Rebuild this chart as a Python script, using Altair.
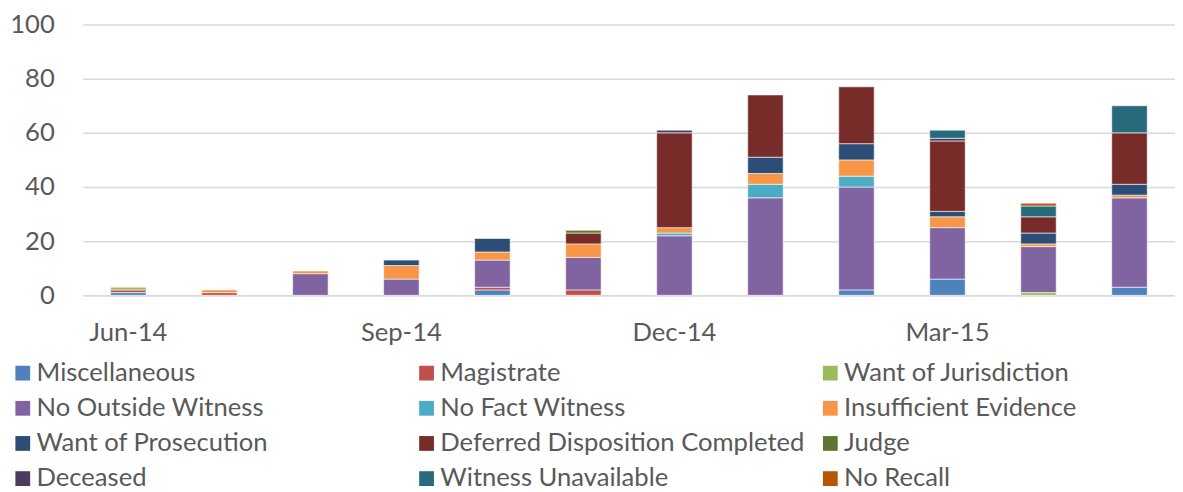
import altair as alt
import pandas as pd

months = ["Jun-14", "Jul-14", "Aug-14", "Sep-14", "Oct-14", "Nov-14",
          "Dec-14", "Jan-15", "Feb-15", "Mar-15", "Apr-15", "May-15"]
shown_labels = ["Jun-14", "Sep-14", "Dec-14", "Mar-15"]

series = ["Miscellaneous", "Magistrate", "Want of Jurisdiction",
          "No Outside Witness", "No Fact Witness", "Insufficient Evidence",
          "Want of Prosecution", "Deferred Disposition Completed", "Judge",
          "Deceased", "Witness Unavailable", "No Recall"]
colors = ["#4F81BD", "#C0504D", "#9BBB59",
          "#8064A2", "#4BACC6", "#F79646",
          "#2C4D75", "#772C2A", "#5F7530",
          "#4D3B62", "#276A7C", "#B65708"]

miscellaneous = [1, 0, 0, 0, 2, 0, 0, 0, 2, 6, 0, 3]
magistrate = [1, 1, 0, 0, 1, 2, 0, 0, 0, 0, 0, 0]
want_of_jurisdiction = [1, 0, 0, 0, 0, 0, 0, 0, 0, 0, 1, 0]
no_outside_witness = [0, 0, 8, 6, 10, 12, 22, 36, 38, 19, 17, 33]
no_fact_witness = [0, 0, 0, 0, 0, 0, 1, 5, 4, 0, 0, 0]
insufficient_evidence = [0, 1, 1, 5, 3, 5, 2, 4, 6, 4, 1, 1]
want_of_prosecution = [0, 0, 0, 2, 5, 0, 0, 6, 6, 2, 4, 4]
deferred_disposition = [0, 0, 0, 0, 0, 4, 35, 23, 21, 26, 6, 19]
judge = [0, 0, 0, 0, 0, 1, 0, 0, 0, 0, 0, 0]
deceased = [0, 0, 0, 0, 0, 0, 1, 0, 0, 1, 0, 0]
witness_unavailable = [0, 0, 0, 0, 0, 0, 0, 0, 0, 3, 4, 10]
no_recall = [0, 0, 0, 0, 0, 0, 0, 0, 0, 0, 1, 0]

series_values = [miscellaneous, magistrate, want_of_jurisdiction,
                 no_outside_witness, no_fact_witness, insufficient_evidence,
                 want_of_prosecution, deferred_disposition, judge,
                 deceased, witness_unavailable, no_recall]

rows = []
for si, (name, vals) in enumerate(zip(series, series_values)):
    for m, v in zip(months, vals):
        if v:
            rows.append({"month": m, "series": name, "value": v, "order": si})
df = pd.DataFrame(rows)

label_expr = "indexof(" + str(shown_labels) + ", datum.value) >= 0 ? datum.value : ''"

FONT = "Lato"
GRAY = "#595959"

chart = alt.Chart(df).mark_bar(stroke="white", strokeWidth=0.6).encode(
    x=alt.X("month:N", sort=months,
            scale=alt.Scale(domain=months, paddingInner=0.61, paddingOuter=0.305),
            axis=alt.Axis(title=None, labelAngle=0, ticks=False, tickSize=0,
                          labelExpr=label_expr, labelFont=FONT, labelFontSize=26,
                          labelColor=GRAY, labelPadding=25, domainColor="#D9D9D9",
                          domainWidth=1.5, grid=False)),
    y=alt.Y("value:Q", stack="zero", scale=alt.Scale(domain=[0, 100]),
            axis=alt.Axis(title=None, values=[0, 20, 40, 60, 80, 100], ticks=False,
                          tickSize=0, domain=False, gridColor="#D9D9D9", gridWidth=1.5,
                          labelFont=FONT, labelFontSize=26, labelColor=GRAY,
                          labelPadding=29)),
    color=alt.Color("series:N", scale=alt.Scale(domain=series, range=colors),
                    legend=alt.Legend(title=None, orient="none", legendX=-74, legendY=341,
                                      direction="horizontal",
                                      columns=3, gridAlign="all", columnPadding=13,
                                      rowPadding=9.7, symbolType="square", symbolSize=225,
                                      symbolStrokeWidth=0, labelFont=FONT,
                                      labelFontSize=26, labelColor=GRAY, labelOffset=1,
                                      labelLimit=600, padding=0)),
    order=alt.Order("order:Q", sort="ascending"),
).properties(
    width=1109, height=275,
    padding={"left": 76, "top": 13, "right": 0, "bottom": 200},
    autosize=alt.AutoSizeParams(type="none"),
).configure_view(stroke=None)

chart.save("out.html", embed_options={"renderer": "svg", "actions": False})
